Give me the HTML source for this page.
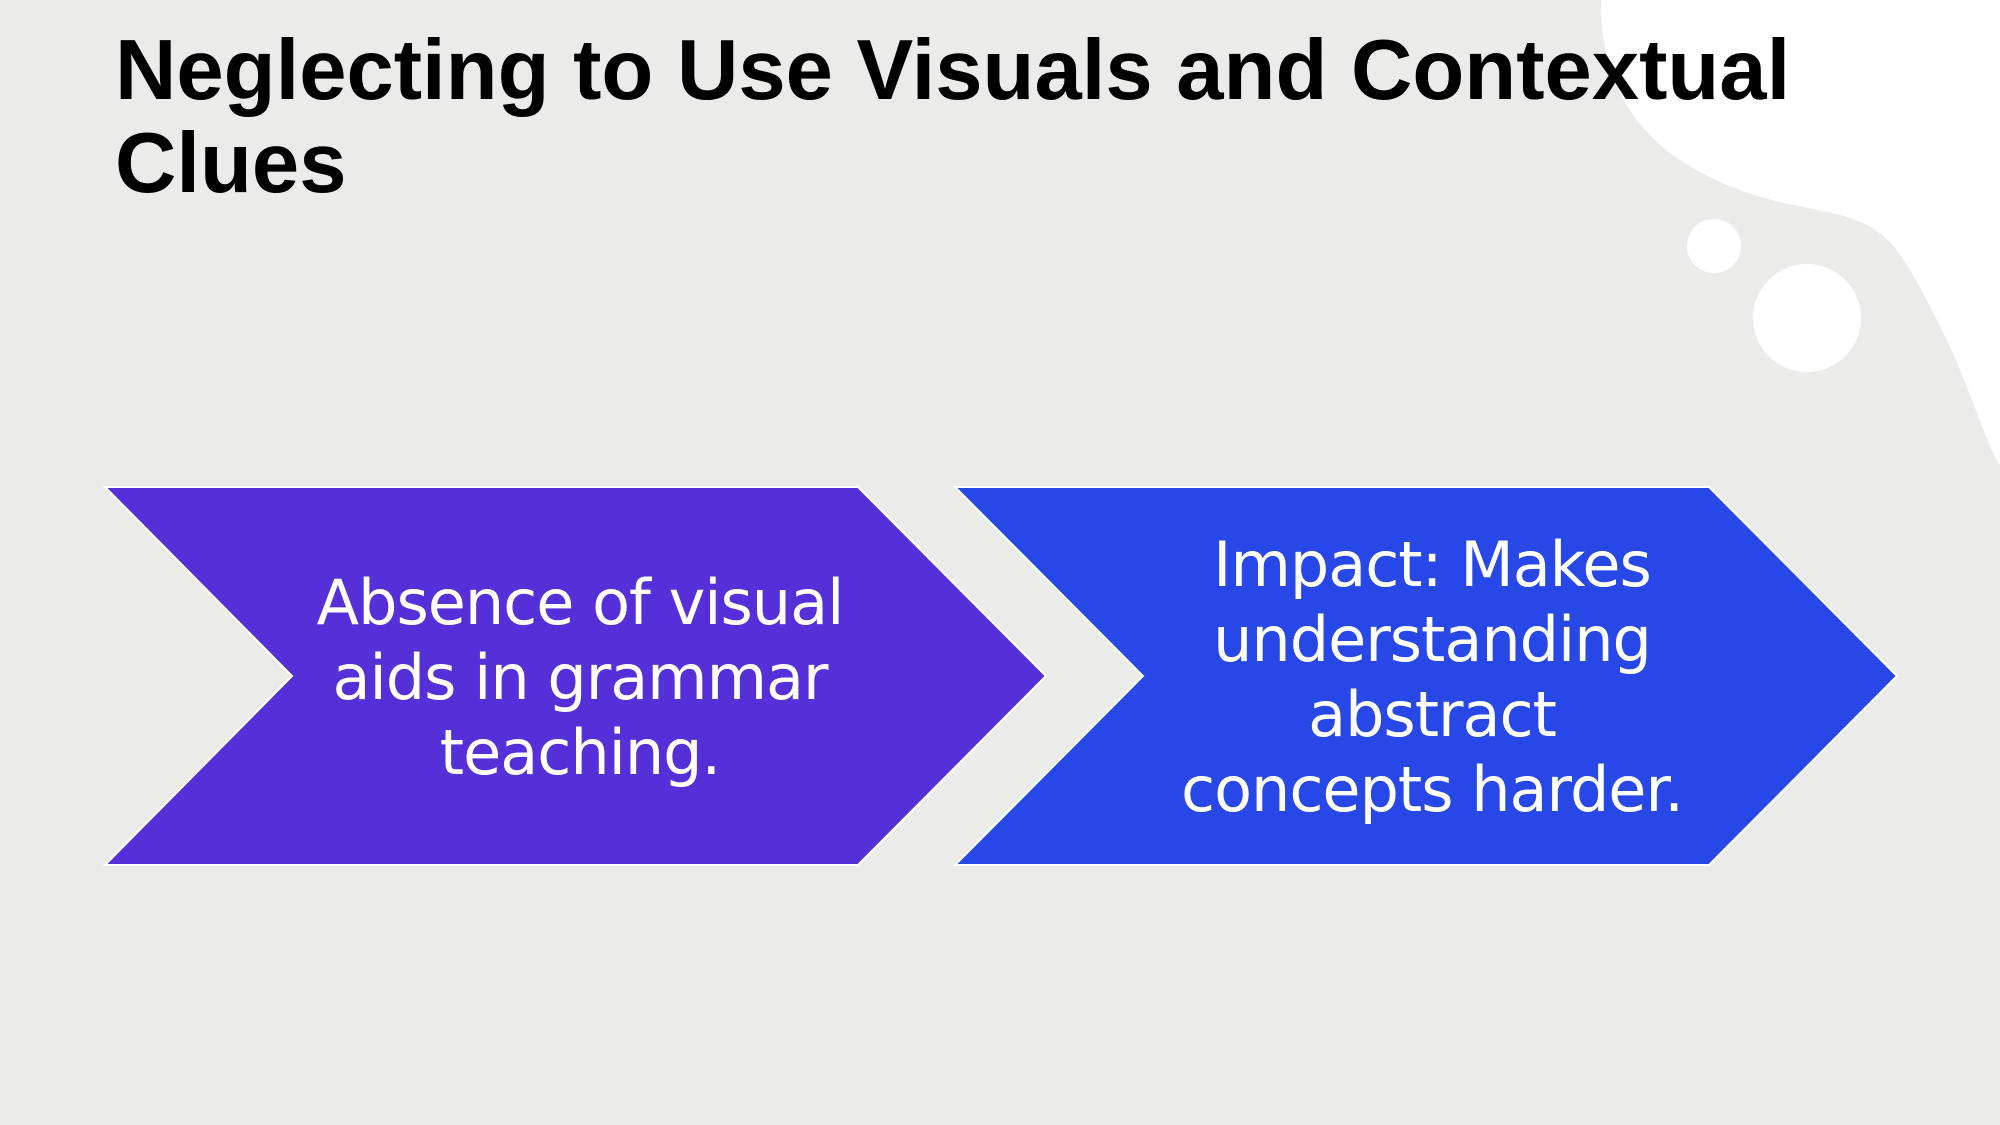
<!DOCTYPE html>
<html><head><meta charset="utf-8"><style>
html,body{margin:0;padding:0}
body{width:2000px;height:1125px;background:#ebece9;position:relative;overflow:hidden;font-family:"Liberation Sans",sans-serif}
h1{position:absolute;left:115px;top:24px;margin:0;font-size:85px;line-height:93px;font-weight:bold;color:#000;width:1800px}
.t{position:absolute;color:#fff;text-align:center;font-size:62px;line-height:75px;font-family:"DejaVu Sans","Liberation Sans",sans-serif;font-weight:normal;letter-spacing:-1px}
</style></head><body>
<svg width="2000" height="1125" style="position:absolute;left:0;top:0">
<path d="M1601,0 C1600,60 1620,120 1680,160 C1740,200 1800,205 1840,215 C1880,225 1895,245 1910,270 C1950,340 1960,370 1972,400 C1982,425 1990,450 2000,465 L2000,0 Z" fill="#fff"/>
<circle cx="1714" cy="246" r="27" fill="#fff"/>
<circle cx="1807" cy="318" r="54" fill="#fff"/>
<polygon points="105,487 858,487 1046,676 858,865 105,865 292,676" fill="#5530d8" stroke="#fff" stroke-width="2"/>
<polygon points="955,487 1709,487 1897,676 1709,865 955,865 1143,676" fill="#2748e6" stroke="#fff" stroke-width="2"/>
</svg>
<h1>Neglecting to Use Visuals and Contextual<br>Clues</h1>
<div class="t" style="left:280px;width:600px;top:565px">Absence of visual<br>aids in grammar<br>teaching.</div>
<div class="t" style="left:1132px;width:600px;top:527px">Impact: Makes<br>understanding<br>abstract<br>concepts harder.</div>
</body></html>
